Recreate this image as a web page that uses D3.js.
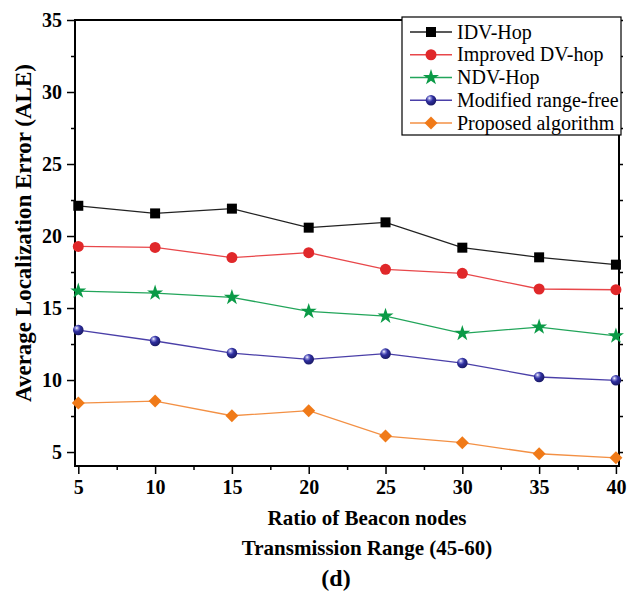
<!DOCTYPE html>
<html>
<head>
<meta charset="utf-8">
<script src="https://cdn.jsdelivr.net/npm/d3@7"></script>
<style>
  body { margin: 0; background: #fff; }
  svg { display: block; font-family: "Liberation Serif", "Times New Roman", serif; }
</style>
</head>
<body>
<div id="graph"></div>
<script>
// Données
const beaconRatio = [5, 10, 15, 20, 25, 30, 35, 40];
const idvHop = [22.1, 21.57, 21.9, 20.58, 20.95, 19.19, 18.52, 18.01];
const improvedDvHop = [19.28, 19.21, 18.5, 18.84, 17.69, 17.41, 16.32, 16.27];
const ndvHop = [16.18, 16.04, 15.74, 14.77, 14.44, 13.24, 13.68, 13.06];
const modifiedRangeFree = [13.47, 12.71, 11.87, 11.44, 11.83, 11.18, 10.21, 9.98];
const proposedAlgo = [8.4, 8.54, 7.52, 7.87, 6.11, 5.65, 4.88, 4.6];
const seriesNames = ['IDV-Hop', 'Improved DV-hop', 'NDV-Hop', 'Modified range-free', 'Proposed algorithm'];
const xTicks = [5, 10, 15, 20, 25, 30, 35, 40];
const yTicks = [5, 10, 15, 20, 25, 30, 35];

const series = [
  { name: seriesNames[0], values: idvHop, marker: 'square', fill: '#000', line: '#222' },
  { name: seriesNames[1], values: improvedDvHop, marker: 'circle', fill: '#e0282a', line: '#e8474a' },
  { name: seriesNames[2], values: ndvHop, marker: 'star', fill: '#0a9a46', line: '#22a55a' },
  { name: seriesNames[3], values: modifiedRangeFree, marker: 'sphere', fill: '#2e2e98', line: '#4a3fa8' },
  { name: seriesNames[4], values: proposedAlgo, marker: 'diamond', fill: '#f07a18', line: '#f39044' }
];

//---------------------------------------------------------------------------------------
// Canevas

const width = 636;
const height = 593;
const plot = { left: 75, right: 619, top: 20, bottom: 466 };

const svg = d3.select('#graph')
  .append('svg')
  .attr('width', width)
  .attr('height', height);

const defs = svg.append('defs');
const grad = defs.append('radialGradient')
  .attr('id', 'sphere')
  .attr('cx', '38%').attr('cy', '35%').attr('r', '65%')
  .attr('fx', '35%').attr('fy', '30%');
grad.append('stop').attr('offset', '0%').attr('stop-color', '#ffffff');
grad.append('stop').attr('offset', '22%').attr('stop-color', '#8a8ad8');
grad.append('stop').attr('offset', '50%').attr('stop-color', '#2e2e9e');
grad.append('stop').attr('offset', '100%').attr('stop-color', '#1a1a66');

//---------------------------------------------------------------------------------------
// Échelles

const scaleX = d3.scaleLinear()
  .domain([4.785, 40.2])
  .range([plot.left, plot.right]);

const scaleY = d3.scaleLinear()
  .domain([4.03, 35])
  .range([plot.bottom, plot.top]);

//---------------------------------------------------------------------------------------
// Axes

const minorX = d3.range(7.5, 40, 5);
const minorY = d3.range(7.5, 35, 5);

svg.append('g')
  .attr('transform', `translate(0,${plot.bottom})`)
  .call(d3.axisBottom(scaleX).tickValues(minorX).tickSize(4).tickFormat('').tickSizeOuter(0))
  .call(g => g.select('.domain').remove());

svg.append('g')
  .attr('transform', `translate(${plot.left},0)`)
  .call(d3.axisLeft(scaleY).tickValues(minorY).tickSize(4).tickFormat('').tickSizeOuter(0))
  .call(g => g.select('.domain').remove());

svg.append('g')
  .attr('transform', `translate(${plot.right},0)`)
  .call(d3.axisLeft(scaleY).tickValues(yTicks.concat(minorY)).tickSize(-4).tickFormat('').tickSizeOuter(0))
  .call(g => g.select('.domain').remove());

const xAxis = svg.append('g')
  .attr('transform', `translate(0,${plot.bottom})`)
  .call(d3.axisBottom(scaleX).tickValues(xTicks).tickSize(8).tickPadding(6).tickSizeOuter(0));

const yAxis = svg.append('g')
  .attr('transform', `translate(${plot.left},0)`)
  .call(d3.axisLeft(scaleY).tickValues(yTicks).tickSize(8).tickPadding(5).tickSizeOuter(0));

[xAxis, yAxis].forEach(g => {
  g.selectAll('.domain').remove();
  g.selectAll('text')
    .attr('fill', '#000')
    .attr('font-family', '"Liberation Serif", serif')
    .attr('font-weight', 'bold')
    .attr('font-size', 20);
});
svg.selectAll('.tick line').attr('stroke', '#000').attr('stroke-width', 1.5);

// cadre
svg.append('rect')
  .attr('x', plot.left)
  .attr('y', plot.top)
  .attr('width', plot.right - plot.left)
  .attr('height', plot.bottom - plot.top)
  .attr('fill', 'none')
  .attr('stroke', '#000')
  .attr('stroke-width', 2);

//---------------------------------------------------------------------------------------
// Marqueurs

function drawMarker(sel, s) {
  if (s.marker === 'square') {
    sel.append('path').attr('d', d3.symbol(d3.symbolSquare, 100)()).attr('fill', s.fill);
  } else if (s.marker === 'circle') {
    sel.append('circle').attr('r', 5.5).attr('fill', s.fill);
  } else if (s.marker === 'star') {
    sel.append('path').attr('d', d3.symbol(d3.symbolStar, 80)()).attr('fill', s.fill);
  } else if (s.marker === 'sphere') {
    sel.append('circle').attr('r', 5.3).attr('fill', 'url(#sphere)');
  } else if (s.marker === 'diamond') {
    sel.append('path').attr('d', d3.symbol(d3.symbolSquare, 84)())
      .attr('transform', 'rotate(45)').attr('fill', s.fill);
  }
}

// Courbes

const line = d3.line()
  .x((d, i) => scaleX(beaconRatio[i]))
  .y(d => scaleY(d));

series.forEach(s => {
  svg.append('path')
    .datum(s.values)
    .attr('d', line)
    .attr('fill', 'none')
    .attr('stroke', s.line)
    .attr('stroke-width', 1.3);

  svg.append('g')
    .selectAll('g')
    .data(s.values)
    .join('g')
    .attr('transform', (d, i) => `translate(${scaleX(beaconRatio[i])},${scaleY(d)})`)
    .each(function () { drawMarker(d3.select(this), s); });
});

//---------------------------------------------------------------------------------------
// Légende

const legend = svg.append('g');
legend.append('rect')
  .attr('x', 402).attr('y', 17)
  .attr('width', 219).attr('height', 118)
  .attr('fill', '#fff')
  .attr('stroke', '#000')
  .attr('stroke-width', 1.2);

const rows = legend.selectAll('g.row')
  .data(series)
  .join('g')
  .attr('class', 'row')
  .attr('transform', (d, i) => `translate(0,${32 + i * 22.75})`);

rows.append('line')
  .attr('x1', 410).attr('x2', 452)
  .attr('stroke', d => d.line)
  .attr('stroke-width', 1.3);

rows.append('g')
  .attr('transform', 'translate(431,0)')
  .each(function (d) { drawMarker(d3.select(this), d); });

rows.append('text')
  .attr('x', 457)
  .attr('dy', '0.33em')
  .attr('font-size', 20)
  .text(d => d.name);

//---------------------------------------------------------------------------------------
// Titres d'axes

svg.append('text')
  .attr('transform', 'translate(31,233) rotate(-90)')
  .attr('text-anchor', 'middle')
  .attr('font-weight', 'bold')
  .attr('font-size', 23)
  .text('Average Localization Error (ALE)');

svg.append('text')
  .attr('x', 367).attr('y', 525)
  .attr('text-anchor', 'middle')
  .attr('font-weight', 'bold')
  .attr('font-size', 21)
  .text('Ratio of Beacon nodes');

svg.append('text')
  .attr('x', 367).attr('y', 555)
  .attr('text-anchor', 'middle')
  .attr('font-weight', 'bold')
  .attr('font-size', 21)
  .text('Transmission Range (45-60)');

svg.append('text')
  .attr('x', 336).attr('y', 586)
  .attr('text-anchor', 'middle')
  .attr('font-weight', 'bold')
  .attr('font-size', 24)
  .text('(d)');
</script>
</body>
</html>
